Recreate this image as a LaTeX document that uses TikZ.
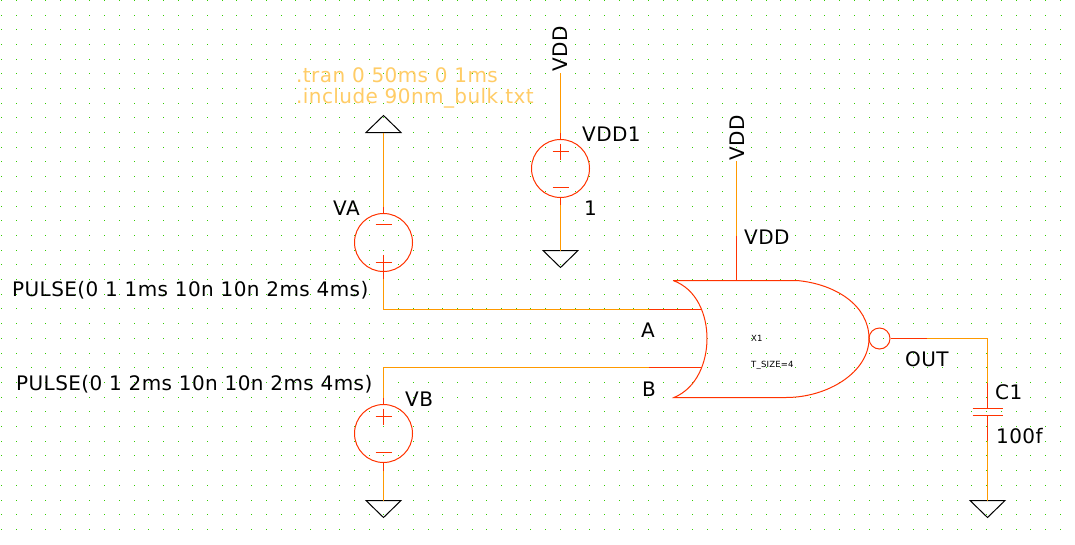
\documentclass[tikz,border=0pt]{standalone}
\usepackage{fontspec}
\setmainfont{DejaVu Sans}[LetterSpace=2.1]
\usetikzlibrary{calc}
\definecolor{griddot}{HTML}{33CC00}
\definecolor{wirecol}{HTML}{FF9900}
\definecolor{symb}{HTML}{FF3300}
\definecolor{spice}{HTML}{FFCC66}
\tikzset{
    lbl/.style={anchor=base west, inner sep=0pt, font=\fontsize{20}{20}\selectfont},
    tiny lbl/.style={anchor=base west, inner sep=0pt, font=\fontsize{8.5}{8.5}\selectfont},
    spice lbl/.style={lbl, text=spice},
    wire/.style={draw=wirecol, line width=1pt},
    stub/.style={draw=symb, line width=1pt},
    vsrc/.style={circle, draw=symb, line width=1pt, minimum size=58pt, inner sep=0pt},
    pics/gnd/.style={code={\draw [black, line width=1pt] (-17.5,0) -- (17.5,0) -- (0,17) -- cycle;}},
    pics/vcc/.style={code={\draw [black, line width=1pt] (-17.5,0) -- (17.5,0) -- (0,-17) -- cycle;}},
}
\newcommand{\plusminus}[3]{
    \draw [stub] ($(#1)+(-8,#2)$) -- ($(#1)+(8,#2)$);
    \draw [stub] ($(#1)+(-8,#3)$) -- ($(#1)+(8,#3)$);
    \draw [stub] ($(#1)+(0,#2-8)$) -- ($(#1)+(0,#2+8)$);
}
\begin{document}
\begin{tikzpicture}[x=1pt, y=-1pt]
    \useasboundingbox [fill=white] (0,0) rectangle (1075,544);
    % grid
    \foreach \i in {0,...,72} {
        \foreach \j in {0,...,36} {
            \fill [griddot] ({floor(1.8+14.7*\i)},{floor(0.3+14.7*\j)}) rectangle +(1,1);
        }
    }

    % sources
    \node [vsrc] (VA) at (383.5,242.5) {};
    \node [vsrc] (VDDone) at (560.5,168.5) {};
    \node [vsrc] (VB) at (383.5,433.5) {};
    \plusminus{VA}{20}{-18}
    \plusminus{VDDone}{-17}{19}
    \plusminus{VB}{-17}{19}

    % supplies and grounds
    \coordinate (topA) at (383.5,132.5);
    \coordinate (stubAt) at (383.5,207);
    \coordinate (stubAb) at (383.5,279);
    \coordinate (cornerA) at (383.5,309.5);
    \coordinate (pinA) at (701,309.5);
    \coordinate (midA) at (649,309.5);
    \coordinate (topV) at (560.5,73);
    \coordinate (stubVt) at (560.5,133);
    \coordinate (stubVb) at (560.5,205);
    \coordinate (gndV) at (560.5,250.5);
    \coordinate (cornerB) at (383.5,367.5);
    \coordinate (pinB) at (701,367.5);
    \coordinate (midB) at (649,367.5);
    \coordinate (stubBt) at (383.5,398);
    \coordinate (stubBb) at (383.5,471);
    \coordinate (gndB) at (383.5,500.5);
    \coordinate (topG) at (736.5,161);
    \coordinate (midG) at (736.5,236);
    \coordinate (pwrG) at (736.5,280.5);
    \coordinate (outG) at (927,338.5);
    \coordinate (cornerO) at (987.5,338.5);
    \coordinate (capT) at (987.5,383);
    \coordinate (plateT) at (987.5,408.5);
    \coordinate (plateB) at (987.5,415.5);
    \coordinate (capB) at (987.5,441);
    \coordinate (gndC) at (987.5,500.5);

    \pic at (topA) {vcc};
    \pic at (gndV) {gnd};
    \pic at (gndB) {gnd};
    \pic at (gndC) {gnd};

    % wires
    \draw [wire] (topA) -- (stubAt);
    \draw [wire] (stubAb) -- (cornerA) -- (midA);
    \draw [wire] (topV) -- (stubVt);
    \draw [wire] (stubVb) -- (gndV);
    \draw [wire] (midB) -- (cornerB) -- (stubBt);
    \draw [wire] (stubBb) -- (gndB);
    \draw [wire] (outG) -- (cornerO) -- (capT);
    \draw [wire] (capB) -- (gndC);
    \draw [wire] (topG) -- (midG);

    % stubs
    \draw [stub] (stubAt) -- (VA.north);
    \draw [stub] (VA.south) -- (stubAb);
    \draw [stub] (stubVt) -- (VDDone.north);
    \draw [stub] (VDDone.south) -- (stubVb);
    \draw [stub] (stubBt) -- (VB.north);
    \draw [stub] (VB.south) -- (stubBb);
    \draw [stub] (midA) -- (pinA);
    \draw [stub] (midB) -- (pinB);
    \draw [stub] (midG) -- (pwrG);

    % nor gate
    \coordinate (tl) at (673,280.5);
    \coordinate (tr) at (797,280.5);
    \coordinate (tip) at (869,338.5);
    \coordinate (br) at (786,397.5);
    \coordinate (bl) at (674,397.5);
    \draw [stub] (tl) -- (tr) .. controls (835,284) and (869,305) .. (tip)
        .. controls (869,372) and (828,397.5) .. (br) -- (bl)
        .. controls (697,388) and (707,362) .. (707,338.5)
        .. controls (707,315) and (697,289) .. (tl);
    \node [circle, draw=symb, line width=1pt, minimum size=21pt, inner sep=0pt] (bubble) at (879.5,338.5) {};
    \draw [stub] (bubble.east) -- (outG);

    % capacitor
    \draw [stub] (capT) -- (plateT);
    \draw [stub] (plateB) -- (capB);
    \draw [stub] ($(plateT)+(-15,0)$) -- ($(plateT)+(15,0)$);
    \draw [stub] ($(plateB)+(-15,0)$) -- ($(plateB)+(15,0)$);

    % labels
    \node [spice lbl] (tran) at (296,82) {.tran 0 50ms 0 1ms};
    \node [spice lbl] (incl) at (296,103) {.include 90nm\_bulk.txt};
    \node [lbl] (nameA) at (333,215) {VA};
    \node [lbl] (nameV) at (582,141) {VDD1};
    \node [lbl] (valV) at (584,215) {1};
    \node [lbl] (nameB) at (405,406) {VB};
    \node [lbl] (pulseA) at (12,296) {PULSE(0 1 1ms 10n 10n 2ms 4ms)};
    \node [lbl] (pulseB) at (16,390) {PULSE(0 1 2ms 10n 10n 2ms 4ms)};
    \node [lbl, rotate=90] (vddV) at (567,72) {VDD};
    \node [lbl, rotate=90] (vddG) at (744,161) {VDD};
    \node [lbl] (pinVDD) at (744,244) {VDD};
    \node [lbl] (pinAl) at (641,337) {A};
    \node [lbl] (pinBl) at (642,396) {B};
    \node [lbl] (pinO) at (905,366) {OUT};
    \node [lbl] (nameC) at (995,399) {C1};
    \node [lbl] (valC) at (996,443) {100f};
    \node [tiny lbl] (nameX) at (751,341) {X1};
    \node [tiny lbl] (sizeX) at (751,367) {T\_SIZE=4};
\end{tikzpicture}
\end{document}
